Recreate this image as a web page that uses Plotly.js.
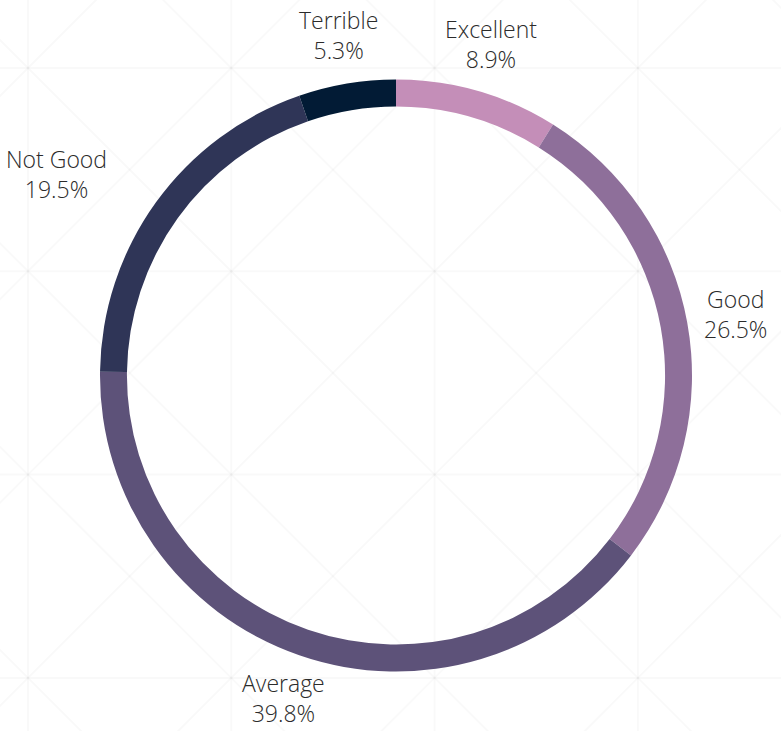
<!DOCTYPE html>
<html>
<head>
<meta charset="utf-8">
<script src="https://cdn.plot.ly/plotly-3.0.1.min.js"></script>
<style>html,body{margin:0;padding:0;background:#fff;}#chart{width:781px;height:731px;}</style>
</head>
<body>
<div id="chart"></div>
<script>
const categories = ["Excellent", "Good", "Average", "Not Good", "Terrible"];
const shares = [8.9, 26.5, 39.8, 19.5, 5.3];
const colors = ["#c48eb8", "#8e6f9a", "#5d5279", "#2f3557", "#021b35"];

const W = 781, H = 731;
const px = x => x / W, py = y => 1 - y / H;

// faint decorative background pattern (grid with diagonal crosses)
const shapes = [];
const step = 203.3, gx0 = 28, gy0 = 68;
const lineStyle = {color: "rgba(0,0,0,0.025)", width: 2};
for (let i = -1; i <= 4; i++) {
  const x = gx0 + i * step;
  shapes.push({type: "line", xref: "paper", yref: "paper", x0: px(x), x1: px(x), y0: 0, y1: 1, line: lineStyle, layer: "below"});
}
for (let j = -1; j <= 4; j++) {
  const y = gy0 + j * step;
  shapes.push({type: "line", xref: "paper", yref: "paper", x0: 0, x1: 1, y0: py(y), y1: py(y), line: lineStyle, layer: "below"});
}
for (let i = -1; i <= 3; i++) {
  for (let j = -1; j <= 3; j++) {
    const xa = gx0 + i * step, xb = xa + step, ya = gy0 + j * step, yb = ya + step;
    shapes.push({type: "line", xref: "paper", yref: "paper", x0: px(xa), y0: py(ya), x1: px(xb), y1: py(yb), line: lineStyle, layer: "below"});
    shapes.push({type: "line", xref: "paper", yref: "paper", x0: px(xb), y0: py(ya), x1: px(xa), y1: py(yb), line: lineStyle, layer: "below"});
  }
}

// pie geometry (pixels)
const cx = 396, cy = 375.5, R = 296;
const domain = {x: [px(cx - R), px(cx + R)], y: [py(cy + R), py(cy - R)]};

// outside labels placed along each slice's mid-angle, derived from the data
const total = shares.reduce((a, b) => a + b, 0);
const labelR = 345;
const labelNudge = {"Not Good": [-60, 0], "Average": [0, -4]}; // small layout nudges
const annotations = [];
let cum = 0;
shares.forEach((v, i) => {
  const mid = (cum + v / 2) / total * 2 * Math.PI; // clockwise from 12 o'clock
  cum += v;
  const nudge = labelNudge[categories[i]] || [0, 0];
  const lx = cx + labelR * Math.sin(mid) + nudge[0];
  const ly = cy - labelR * Math.cos(mid) + nudge[1];
  annotations.push({
    xref: "paper", yref: "paper",
    x: px(lx), y: py(ly),
    xanchor: "center", yanchor: "middle",
    showarrow: false,
    align: "center",
    text: categories[i] + "<br>" + (v / total * 100).toFixed(1) + "%",
    font: {family: "'Open Sans', sans-serif", size: 23, color: "#2b2b2b", weight: 300}
  });
});

const trace = {
  type: "pie",
  labels: categories,
  values: shares,
  sort: false,
  direction: "clockwise",
  rotation: 0,
  hole: 0.909,
  marker: {colors: colors, line: {width: 0}},
  textinfo: "none",
  domain: domain,
  showlegend: false
};

const layout = {
  width: W, height: H,
  margin: {l: 0, r: 0, t: 0, b: 0},
  paper_bgcolor: "#ffffff",
  plot_bgcolor: "#ffffff",
  showlegend: false,
  shapes: shapes,
  annotations: annotations,
  font: {family: "'Open Sans', sans-serif"}
};

Plotly.newPlot("chart", [trace], layout, {displayModeBar: false, staticPlot: true});
</script>
</body>
</html>
